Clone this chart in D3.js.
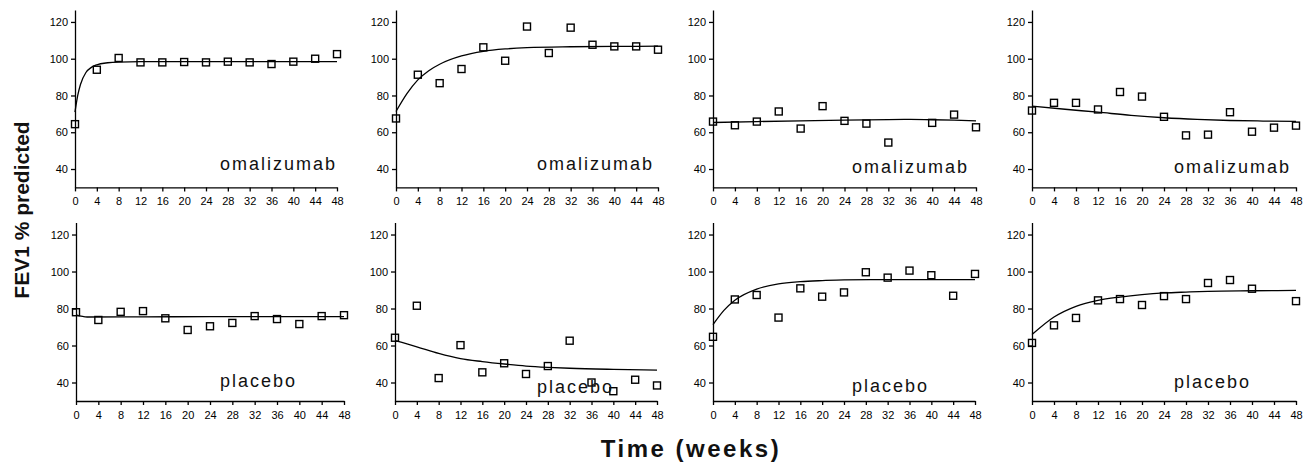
<!DOCTYPE html>
<html>
<head>
<meta charset="utf-8">
<script src="https://cdn.jsdelivr.net/npm/d3@7"></script>
<style>
  body { margin: 0; background: #fff; }
  svg { display: block; }
  .tick text { font-family: "Liberation Sans", Arial, sans-serif; font-size: 11px; fill: #000; }
  .domain, .tick line { stroke: #000; stroke-width: 1.3; }
</style>
</head>
<body>
<svg id="chart" width="1304" height="465"></svg>
<script>
// data
const weeks = [0, 4, 8, 12, 16, 20, 24, 28, 32, 36, 40, 44, 48];
const xTicks = [0, 4, 8, 12, 16, 20, 24, 28, 32, 36, 40, 44, 48];
const yTicks = [40, 60, 80, 100, 120];

// measured FEV1 % predicted (null = no point)
const oma1 = [64.4, 94, 100.4, 98, 98, 98.2, 98, 98.4, 98, 97.1, 98.4, 100, 102.5];
const oma2 = [67.5, 91.3, 86.7, 94.4, 106.2, 98.9, 117.5, 103.1, 116.9, 107.6, 106.7, 106.7, 104.9];
const oma3 = [65.8, 63.8, 65.8, 71.3, 62, 74.2, 66.2, 64.7, 54.4, null, 65.1, 69.6, 62.7];
const oma4 = [71.8, 76, 76, 72.4, 81.9, 79.4, 68.4, 58.3, 58.7, 70.9, 60.3, 62.5, 63.6];
const pla1 = [78, 73.8, 78.2, 78.6, 74.7, 68.4, 70.4, 72.2, 75.9, 74.3, 71.6, 75.9, 76.4];
const pla2 = [64.2, 81.5, 42.4, 60.2, 45.5, 50.4, 44.6, 48.9, 62.6, 40, 35.3, 41.5, 38.4];
const pla3 = [64.7, 84.9, 87.3, 75.1, 90.9, 86.4, 88.7, 99.6, 96.7, 100.5, 98, 86.9, 98.7];
const pla4 = [61.4, 70.9, 74.9, 84.4, 85.1, 81.9, 86.7, 85.1, 93.8, 95.4, 90.7, null, 84];

// fitted curves, read at a few weeks
const fitWeeks1 = [0, 0.5, 1, 2, 3, 4, 6, 8, 12, 48];
const fit1 = [71, 80, 86, 92.5, 95.3, 96.7, 97.8, 98.2, 98.4, 98.4];
const fitWeeks2 = [0, 2, 4, 6, 8, 12, 16, 20, 24, 32, 40, 48];
const fit2 = [71.3, 81, 88.5, 93.5, 97, 101.5, 104, 105.3, 106, 106.5, 106.7, 106.8];
const fitWeeks3 = [0, 8, 16, 24, 32, 36, 40, 44, 48];
const fit3 = [65.3, 65.8, 66.2, 66.6, 66.9, 67, 66.8, 66.6, 66.2];
const fitWeeks4 = [0, 6, 12, 18, 24, 30, 36, 42, 48];
const fit4 = [74.2, 72.5, 70.9, 69.2, 67.9, 67, 66.4, 66.1, 65.9];
const fitWeeks5 = [0, 2, 12, 24, 48];
const fit5 = [76.5, 75.4, 75.5, 75.6, 75.6];
const fitWeeks6 = [0, 4, 8, 12, 16, 20, 24, 28, 32, 40, 48];
const fit6 = [62.6, 59.3, 55.7, 52.9, 51.3, 50, 48.9, 48.2, 47.7, 47.1, 46.7];
const fitWeeks7 = [0, 2, 4, 8, 12, 16, 20, 24, 32, 48];
const fit7 = [71.3, 79, 84.5, 90.5, 93.3, 94.5, 95.1, 95.5, 95.6, 95.6];
const fitWeeks8 = [0, 4, 8, 12, 16, 20, 24, 28, 32, 40, 48];
const fit8 = [65.9, 75.4, 81.2, 84.4, 86.2, 87.5, 88.4, 88.9, 89.3, 89.6, 89.8];

const labels = ["omalizumab", "placebo"];

// layout of the 8 small panels
const rows = [{ bottom: 187.4, top: 10 }, { bottom: 401, top: 222.5 }];
const panels = [
  { pts: oma1, fx: fitWeeks1, fy: fit1, row: 0, x0: 75,   x1: 337,  lx: 220,  ly: 170 },
  { pts: oma2, fx: fitWeeks2, fy: fit2, row: 0, x0: 396,  x1: 658,  lx: 537,  ly: 170 },
  { pts: oma3, fx: fitWeeks3, fy: fit3, row: 0, x0: 713,  x1: 976,  lx: 852,  ly: 172.7 },
  { pts: oma4, fx: fitWeeks4, fy: fit4, row: 0, x0: 1032, x1: 1296, lx: 1174, ly: 172.7 },
  { pts: pla1, fx: fitWeeks5, fy: fit5, row: 1, x0: 76,   x1: 344,  lx: 220,  ly: 386.7 },
  { pts: pla2, fx: fitWeeks6, fy: fit6, row: 1, x0: 395,  x1: 657,  lx: 537,  ly: 393 },
  { pts: pla3, fx: fitWeeks7, fy: fit7, row: 1, x0: 713,  x1: 975,  lx: 852,  ly: 391.7 },
  { pts: pla4, fx: fitWeeks8, fy: fit8, row: 1, x0: 1032, x1: 1296, lx: 1174, ly: 388 }
];

const svg = d3.select("#chart");

panels.forEach(p => {
  const r = rows[p.row];
  const x = d3.scaleLinear().domain([0, 48]).range([p.x0, p.x1]);
  const y = d3.scaleLinear().domain([30, 126.5]).range([r.bottom, r.top]);
  const g = svg.append("g");

  g.append("g")
    .attr("transform", `translate(0,${r.bottom})`)
    .call(d3.axisBottom(x).tickValues(xTicks).tickSize(4).tickSizeOuter(0).tickPadding(6));

  g.append("g")
    .attr("transform", `translate(${p.x0},0)`)
    .call(d3.axisLeft(y).tickValues(yTicks).tickSize(4).tickSizeOuter(0).tickPadding(3));

  // fitted curve
  const fit = p.fx.map((w, i) => ({ w: w, v: p.fy[i] }));
  g.append("path")
    .datum(fit)
    .attr("fill", "none")
    .attr("stroke", "#000")
    .attr("stroke-width", 1.3)
    .attr("d", d3.line().x(d => x(d.w)).y(d => y(d.v)).curve(d3.curveMonotoneX));

  // open squares
  const pts = weeks.map((w, i) => ({ w: w, v: p.pts[i] })).filter(d => d.v != null);
  g.selectAll("rect.pt")
    .data(pts)
    .join("rect")
    .attr("class", "pt")
    .attr("x", d => x(d.w) - 3.5)
    .attr("y", d => y(d.v) - 3.5)
    .attr("width", 7)
    .attr("height", 7)
    .attr("fill", "none")
    .attr("stroke", "#000")
    .attr("stroke-width", 1.4);

  g.append("text")
    .attr("x", p.lx)
    .attr("y", p.ly)
    .attr("font-family", "Liberation Sans, Arial, sans-serif")
    .attr("font-size", 18)
    .attr("letter-spacing", "2px")
    .attr("fill", "#111")
    .text(labels[p.row]);
});

svg.append("text")
  .attr("transform", "translate(29,210) rotate(-90)")
  .attr("text-anchor", "middle")
  .attr("font-family", "Liberation Sans, Arial, sans-serif")
  .attr("font-weight", "bold")
  .attr("font-size", 21)
  .attr("fill", "#111")
  .text("FEV1 % predicted");

svg.append("text")
  .attr("x", 691)
  .attr("y", 456.7)
  .attr("text-anchor", "middle")
  .attr("font-family", "Liberation Sans, Arial, sans-serif")
  .attr("font-weight", "bold")
  .attr("font-size", 24)
  .attr("letter-spacing", "2.5px")
  .attr("fill", "#111")
  .text("Time (weeks)");
</script>
</body>
</html>
